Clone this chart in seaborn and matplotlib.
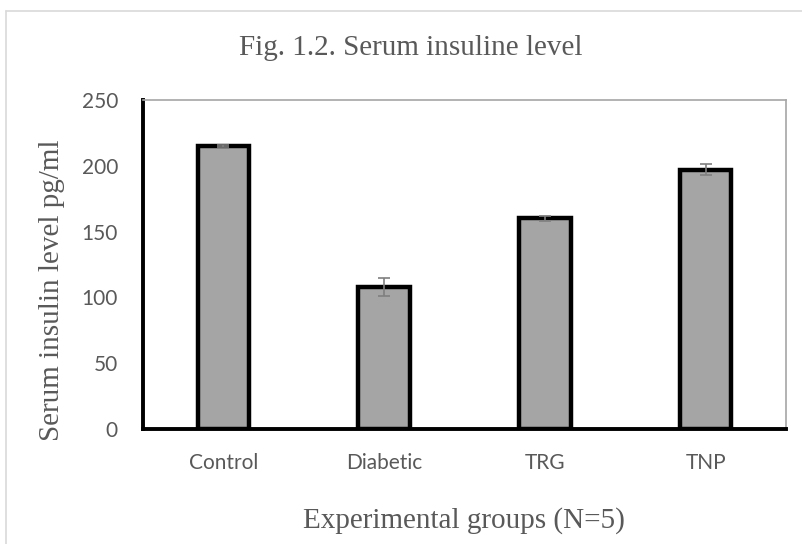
import matplotlib
matplotlib.use("Agg")
import matplotlib.pyplot as plt
import seaborn as sns
import pandas as pd
from matplotlib.lines import Line2D

groups = ["Control", "Diabetic", "TRG", "TNP"]
values = [215, 108, 160, 197]
errors = [1, 7, 2, 4]

df = pd.DataFrame({"group": groups, "value": values})

sns.set_theme(style="white")
fig = plt.figure(figsize=(8.03, 5.44), dpi=100)
ax = fig.add_axes([0.178, 0.2114, 0.801, 0.6048])

sns.barplot(data=df, x="group", y="value", color="#A5A5A5", width=0.32,
            edgecolor="black", linewidth=3.2, saturation=1, ax=ax, zorder=2)
ax.errorbar(range(len(groups)), values, yerr=errors, fmt="none",
            ecolor="#7F7F7F", elinewidth=1.2, capsize=4.5, capthick=1.2, zorder=3)

ax.set_xlim(-0.5, 3.5)
ax.set_ylim(0, 250)
ax.set_yticks([0, 50, 100, 150, 200, 250])

tick_font = ["Lato", "DejaVu Sans"]
serif = ["Liberation Serif", "DejaVu Serif"]
txt = "#595959"
for lab in ax.get_xticklabels() + ax.get_yticklabels():
    lab.set_family(tick_font)
    lab.set_fontsize(15)
    lab.set_color(txt)
ax.tick_params(axis="y", length=0, pad=18)
ax.tick_params(axis="x", length=0, pad=17)

ax.set_xlabel("Experimental groups (N=5)", family=serif, fontsize=21, color=txt)
ax.set_ylabel("Serum insulin level pg/ml", family=serif, fontsize=21, color=txt)
ax.xaxis.label.set_va("center")
ax.yaxis.label.set_va("center")
ax.xaxis.set_label_coords(0.499, -0.2797)
ax.yaxis.set_label_coords(-0.1415, 0.4228)
fig.text(0.512, 0.912, "Fig. 1.2. Serum insuline level", family=serif, fontsize=21,
         color=txt, ha="center", va="center")

for s in ["left", "bottom"]:
    ax.spines[s].set_color("black")
    ax.spines[s].set_linewidth(2.8)
for s in ["top", "right"]:
    ax.spines[s].set_color("#A6A6A6")
    ax.spines[s].set_linewidth(1.2)

# outer chart border (left and top edges visible)
fig.add_artist(Line2D([0.008, 0.008], [0.0, 0.98], transform=fig.transFigure,
                      color="#D9D9D9", linewidth=1.2))
fig.add_artist(Line2D([0.008, 1.0], [0.98, 0.98], transform=fig.transFigure,
                      color="#D9D9D9", linewidth=1.2))

fig.savefig("out.png", dpi=100)
